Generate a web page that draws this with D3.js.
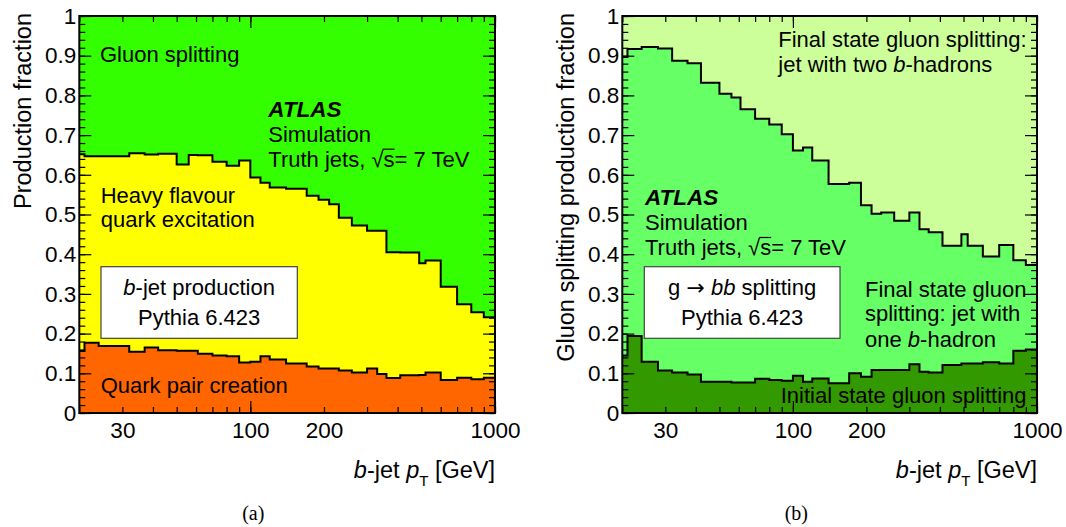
<!DOCTYPE html>
<html>
<head>
<meta charset="utf-8">
<script src="https://cdn.jsdelivr.net/npm/d3@7"></script>
<style>
  body { margin: 0; background: #fff; }
  svg text { font-family: "Liberation Sans", Arial, Helvetica, sans-serif; fill: #000; }
</style>
</head>
<body>
<svg id="chart" width="1066" height="527"></svg>
<script>
// bin edges in b-jet pT [GeV], shared by both panels
var ptEdges = [20, 21, 24, 28, 32, 37, 42, 50, 56, 61, 70, 80, 90, 100, 110, 120, 140,
               170, 190, 210, 230, 260, 300, 330, 360, 410, 490, 520, 600, 700, 800, 900, 1000];
var xTickLabels = [30, 100, 200, 1000];

// (a) b-jet production fractions
var quarkPairCreation = [0.156, 0.177, 0.169, 0.169, 0.154, 0.165, 0.158, 0.157, 0.157, 0.149, 0.145,
                         0.143, 0.127, 0.129, 0.143, 0.135, 0.125, 0.117, 0.112, 0.112, 0.107, 0.102,
                         0.112, 0.098, 0.088, 0.095, 0.096, 0.102, 0.083, 0.089, 0.085, 0.089];
var flavourExcitation = [0.496, 0.470, 0.478, 0.478, 0.500, 0.486, 0.495, 0.469, 0.493, 0.500, 0.488,
                         0.480, 0.509, 0.464, 0.437, 0.433, 0.440, 0.430, 0.425, 0.414, 0.385, 0.370,
                         0.347, 0.361, 0.317, 0.309, 0.281, 0.282, 0.235, 0.185, 0.169, 0.152];
var gluonSplitting    = [0.348, 0.353, 0.353, 0.353, 0.346, 0.349, 0.347, 0.374, 0.350, 0.351, 0.367,
                         0.377, 0.364, 0.407, 0.420, 0.432, 0.435, 0.453, 0.463, 0.474, 0.508, 0.528,
                         0.541, 0.541, 0.595, 0.596, 0.623, 0.616, 0.682, 0.726, 0.746, 0.759];

// (b) g -> bb splitting fractions
var initialState = [0.145, 0.194, 0.129, 0.107, 0.102, 0.097, 0.079, 0.079, 0.077, 0.077, 0.086,
                    0.083, 0.081, 0.094, 0.079, 0.087, 0.075, 0.100, 0.091, 0.108, 0.108, 0.108,
                    0.123, 0.104, 0.102, 0.121, 0.125, 0.125, 0.128, 0.125, 0.157, 0.160];
var finalOneB    = [0.752, 0.723, 0.793, 0.811, 0.785, 0.784, 0.753, 0.725, 0.718, 0.688, 0.655,
                    0.644, 0.621, 0.567, 0.590, 0.549, 0.502, 0.480, 0.432, 0.394, 0.397, 0.376,
                    0.382, 0.359, 0.353, 0.300, 0.325, 0.296, 0.266, 0.298, 0.228, 0.213];
var finalTwoB    = [0.103, 0.083, 0.078, 0.082, 0.113, 0.119, 0.168, 0.196, 0.205, 0.235, 0.259,
                    0.273, 0.298, 0.339, 0.331, 0.364, 0.423, 0.420, 0.477, 0.498, 0.495, 0.516,
                    0.495, 0.537, 0.545, 0.579, 0.550, 0.579, 0.606, 0.577, 0.615, 0.627];

var svg = d3.select("#chart");
var plotTop = 16, plotBottom = 413;
var y = d3.scaleLinear().domain([0, 1]).range([plotBottom, plotTop]);

// writes a line of text made of [string, style] parts
function textLine(g, x, yy, parts, size, anchor) {
  var t = g.append("text").attr("x", x).attr("y", yy)
    .attr("font-size", size || 22).attr("text-anchor", anchor || "start");
  parts.forEach(function(p) {
    var s = t.append("tspan").text(p[0]);
    var st = p[1] || {};
    if (st.italic) s.attr("font-style", "italic");
    if (st.bold) s.attr("font-weight", "bold");
    if (st.size) s.attr("font-size", st.size);
    if (st.dy) s.attr("dy", st.dy);
    if (st.font) s.style("font-family", st.font);
  });
  return t;
}

function drawPanel(p) {
  var x = d3.scaleLog().domain([20, 1000]).range([p.left, p.right]);
  var g = svg.append("g");

  g.append("clipPath").attr("id", p.id + "clip")
    .append("rect").attr("x", p.left).attr("y", plotTop)
    .attr("width", p.right - p.left).attr("height", plotBottom - plotTop);

  var rows = p.series[0].map(function(v, i) {
    var r = {};
    p.keys.forEach(function(k, j) { r[k] = p.series[j][i]; });
    return r;
  });
  var layers = d3.stack().keys(p.keys)(rows);

  function steps(layer) {
    var pts = [];
    layer.forEach(function(d, i) {
      pts.push({ x: ptEdges[i], y0: d[0], y1: d[1] });
      pts.push({ x: ptEdges[i + 1], y0: d[0], y1: d[1] });
    });
    return pts;
  }

  var area = d3.area()
    .x(function(d) { return x(d.x); })
    .y0(function(d) { return y(d.y0); })
    .y1(function(d) { return y(d.y1); });
  var line = d3.line()
    .x(function(d) { return x(d.x); })
    .y(function(d) { return y(d.y1); });

  var body = g.append("g").attr("clip-path", "url(#" + p.id + "clip)");
  layers.forEach(function(layer, i) {
    body.append("path").attr("d", area(steps(layer))).attr("fill", p.colors[i]);
  });
  layers.slice(0, -1).forEach(function(layer) {
    body.append("path").attr("d", line(steps(layer)))
      .attr("fill", "none").attr("stroke", "#000").attr("stroke-width", 2);
  });

  // ticks drawn inside the frame on all four sides
  var yMajor = y.ticks(10), yMinor = y.ticks(50);
  var xAll = x.ticks(), xMajor = xAll.filter(function(v) { return Math.log10(v) % 1 === 0; });
  function ticks(axis, tx, ty) {
    var a = g.append("g").attr("transform", "translate(" + tx + "," + ty + ")").call(axis);
    a.select(".domain").remove();
    a.selectAll("text").remove();
    a.selectAll("line").attr("stroke", "#000").attr("stroke-width", 1.2);
  }
  ticks(d3.axisRight(y).tickValues(yMinor).tickSize(6), p.left, 0);
  ticks(d3.axisRight(y).tickValues(yMajor).tickSize(12), p.left, 0);
  ticks(d3.axisLeft(y).tickValues(yMinor).tickSize(6), p.right, 0);
  ticks(d3.axisLeft(y).tickValues(yMajor).tickSize(12), p.right, 0);
  ticks(d3.axisTop(x).tickValues(xAll).tickSize(6), 0, plotBottom);
  ticks(d3.axisTop(x).tickValues(xMajor).tickSize(12), 0, plotBottom);
  ticks(d3.axisBottom(x).tickValues(xAll).tickSize(6), 0, plotTop);
  ticks(d3.axisBottom(x).tickValues(xMajor).tickSize(12), 0, plotTop);

  g.append("rect").attr("x", p.left).attr("y", plotTop)
    .attr("width", p.right - p.left).attr("height", plotBottom - plotTop)
    .attr("fill", "none").attr("stroke", "#000").attr("stroke-width", 2);

  // tick labels
  var yl = g.append("g").attr("transform", "translate(" + p.left + ",0)")
    .call(d3.axisLeft(y).tickValues(yMajor).tickSize(0).tickPadding(3)
      .tickFormat(function(v) { return (v === 0 || v === 1) ? d3.format("d")(v) : d3.format(".1f")(v); }));
  yl.select(".domain").remove();
  yl.selectAll("text").attr("font-size", 22.5).attr("font-family", null);

  var xl = g.append("g").attr("transform", "translate(0," + plotBottom + ")")
    .call(d3.axisBottom(x).tickValues(xTickLabels).tickSize(0).tickPadding(9)
      .tickFormat(d3.format("d")));
  xl.select(".domain").remove();
  xl.selectAll("text").attr("font-size", 22.5).attr("font-family", null);

  // axis titles
  g.append("text")
    .attr("transform", "translate(" + (p.left - 48) + ",13) rotate(-90)")
    .attr("text-anchor", "end").attr("font-size", 23.5)
    .text(p.yTitle);
  textLine(g, p.right, 478, [["b", { italic: true }], ["-jet "], ["p", { italic: true }],
    ["T", { size: 15, dy: 8 }], [" [GeV]", { dy: -8 }]], 23.5, "end");

  // panel caption
  g.append("text").attr("x", p.left + 174).attr("y", 520)
    .attr("text-anchor", "middle").attr("font-size", 20)
    .style("font-family", '"Liberation Serif", "Times New Roman", serif')
    .text(p.caption);

  return g;
}

function infoBox(g, x0, x1, line1) {
  g.append("rect").attr("x", x0).attr("y", 266.7).attr("width", x1 - x0).attr("height", 71.6)
    .attr("fill", "#fff").attr("stroke", "#444").attr("stroke-width", 1.2);
  textLine(g, (x0 + x1) / 2, 295, line1, 22, "middle");
  textLine(g, (x0 + x1) / 2, 325, [["Pythia 6.423"]], 22, "middle");
}

function atlasLabel(g, x, yy) {
  textLine(g, x, yy, [["ATLAS", { bold: true, italic: true }]], 22.5);
  textLine(g, x, yy + 25, [["Simulation"]], 22);
  var t = textLine(g, x, yy + 50, [["Truth jets, "], ["\u221A"], ["s"], ["= 7 TeV"]], 22);
  // bar of the square root, running over the "s"
  var root = t.node().getExtentOfChar(12), ess = t.node().getExtentOfChar(13);
  g.append("line")
    .attr("x1", root.x + root.width - 1).attr("x2", ess.x + ess.width)
    .attr("y1", root.y + 2.5).attr("y2", root.y + 2.5)
    .attr("stroke", "#000").attr("stroke-width", 1.2);
}

// panel (a)
var ga = drawPanel({
  id: "a", left: 79.3, right: 495,
  keys: ["qpc", "fex", "gsp"],
  series: [quarkPairCreation, flavourExcitation, gluonSplitting],
  colors: ["#ff6600", "#ffff00", "#33ff00"],
  yTitle: "Production fraction",
  caption: "(a)"
});
textLine(ga, 100, 62, [["Gluon splitting"]]);
atlasLabel(ga, 268.3, 116.7);
textLine(ga, 100.7, 203.3, [["Heavy flavour"]]);
textLine(ga, 100.7, 226.7, [["quark excitation"]]);
infoBox(ga, 101, 297.3, [["b", { italic: true }], ["-jet production"]]);
textLine(ga, 100.7, 393.3, [["Quark pair creation"]]);

// panel (b)
var gb = drawPanel({
  id: "b", left: 622.3, right: 1037,
  keys: ["isr", "fs1", "fs2"],
  series: [initialState, finalOneB, finalTwoB],
  colors: ["#339900", "#66ff66", "#ccff99"],
  yTitle: "Gluon splitting production fraction",
  caption: "(b)"
});
textLine(gb, 778.3, 46.7, [["Final state gluon splitting:"]]);
textLine(gb, 778.3, 71.7, [["jet with two "], ["b", { italic: true }], ["-hadrons"]]);
atlasLabel(gb, 645, 205);
infoBox(gb, 644.3, 840, [["g "], ["\u2192", { font: '"DejaVu Sans", sans-serif' }], [" "],
  ["bb", { italic: true }], [" splitting"]]);
textLine(gb, 865, 296.7, [["Final state gluon"]]);
textLine(gb, 865, 320.7, [["splitting: jet with"]]);
textLine(gb, 865, 346.7, [["one "], ["b", { italic: true }], ["-hadron"]]);
textLine(gb, 780.7, 402.7, [["Initial state gluon splitting"]]);
</script>
</body>
</html>
